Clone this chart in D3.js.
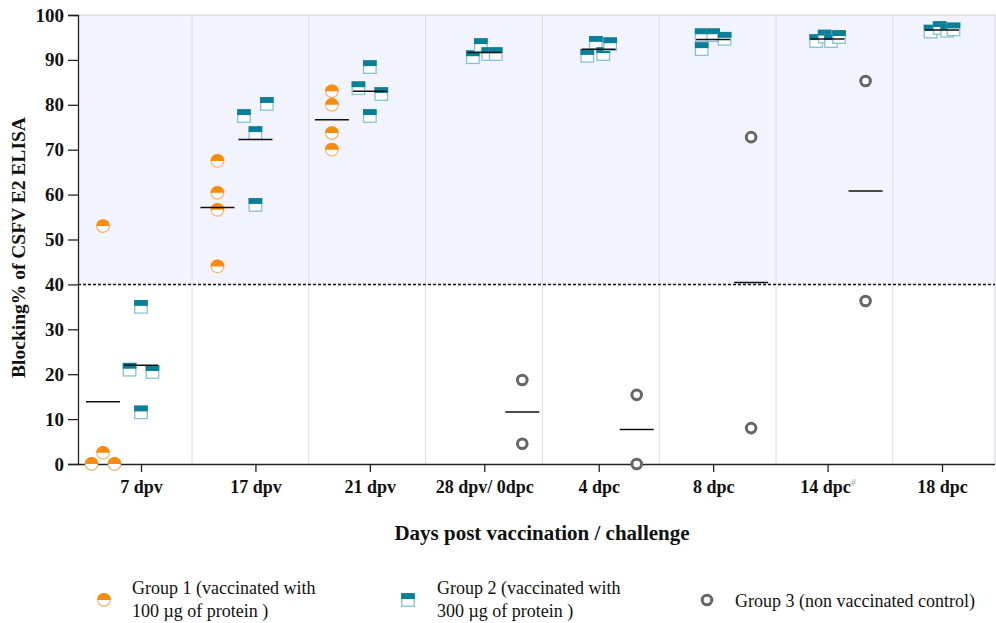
<!DOCTYPE html>
<html>
<head>
<meta charset="utf-8">
<script src="https://cdn.jsdelivr.net/npm/d3@7/dist/d3.min.js"></script>
<style>
  html, body { margin: 0; padding: 0; background: #fff; }
  svg { display: block; }
</style>
</head>
<body>
<svg id="chart" width="996" height="623"></svg>
<script>
// ---------- data ----------
const categories = ["7 dpv", "17 dpv", "21 dpv", "28 dpv/ 0dpc", "4 dpc", "8 dpc", "14 dpc", "18 dpc"];
const yTicks = [0, 10, 20, 30, 40, 50, 60, 70, 80, 90, 100];
const cutoff = 40;

// Group 1 (100 µg) values per category
const group1 = [
  [0, 2.5, 0, 53],
  [67.5, 60.4, 56.6, 44],
  [83, 80, 73.7, 70],
  [], [], [], [], []
];
const group1Jitter = [
  [-1, 0, 1, 0],
  [0, 0, 0, 0],
  [0, 0, 0, 0],
  [], [], [], [], []
];
// Group 2 (300 µg) values per category
const group2 = [
  [35, 21, 20.5, 11.5],
  [77.5, 80.2, 73.7, 57.7],
  [83.7, 88.4, 82.4, 77.5],
  [90.6, 93.3, 91.3, 91.3],
  [90.9, 93.8, 91.3, 93.5],
  [95.5, 95.5, 94.7, 92.4],
  [94.2, 95.2, 94.2, 95.1],
  [96.3, 97.1, 96.5, 96.8]
];
const group2Jitter = [
  [0, -1, 1, 0],
  [-1, 1, 0, 0],
  [-1, 0, 1, 0],
  [-1, -0.3, 0.35, 1],
  [-1, -0.25, 0.4, 1],
  [-1, 0, 1, -1],
  [-1, -0.25, 0.3, 1],
  [-1, -0.2, 0.45, 1]
];
// Group 3 (control) values per category
const group3 = [
  [], [], [],
  [18.7, 4.5],
  [15.4, 0],
  [72.8, 8],
  [85.3, 36.3],
  []
];
const group3Jitter = [[], [], [], [0, 0], [0, 0], [0, 0], [0, 0], []];

const legendLabels = [
  ["Group 1 (vaccinated with", "100 µg of protein )"],
  ["Group 2 (vaccinated with", "300 µg of protein )"],
  ["Group 3 (non vaccinated control)"]
];

// ---------- styles ----------
const ORANGE = "#f98b0e", ORANGE_L = "#f7b46e";
const TEAL = "#0b7f96", TEAL_L = "#86c3d2";
const GRAY = "#666666";
const FONT = "'Liberation Serif', 'Times New Roman', serif";

const svg = d3.select("#chart");
const plot = { left: 78, right: 995, top: 15, bottom: 464 };

const y = d3.scaleLinear().domain([0, 100]).range([plot.bottom, plot.top]);
const x = d3.scalePoint().domain(categories).range([141, 942]);
const step = x.step();
const groupOffset = [-0.332 * step, 0, 0.332 * step];
const jitterUnit = 0.1 * step;
// column bands for the light separators (slightly wider spacing than ticks)
const colBand = d3.scaleBand().domain(categories).range([75.2, 75.2 + 8 * 116.8]);

// shaded region above cutoff
svg.append("rect")
  .attr("x", plot.left).attr("y", y(100))
  .attr("width", plot.right - plot.left).attr("height", y(cutoff) - y(100))
  .attr("fill", "#f3f3fd");

// column separators
const seps = categories.slice(1).map(c => colBand(c));
svg.append("g").selectAll("line").data(seps).join("line")
  .attr("x1", d => d).attr("x2", d => d)
  .attr("y1", plot.top).attr("y2", plot.bottom)
  .attr("stroke", "#dcdce4").attr("stroke-width", 1);

// outer frame (top, right)
svg.append("path")
  .attr("d", `M${plot.left},${plot.top}H${plot.right}V${plot.bottom}`)
  .attr("fill", "none").attr("stroke", "#d0d0d8").attr("stroke-width", 1);

// cutoff dashed line
svg.append("line")
  .attr("x1", plot.left).attr("x2", plot.right)
  .attr("y1", y(cutoff)).attr("y2", y(cutoff))
  .attr("stroke", "#111").attr("stroke-width", 1.5).attr("stroke-dasharray", "3,2");

// ---------- axes ----------
const yAxis = svg.append("g").attr("transform", `translate(${plot.left},0)`)
  .call(d3.axisLeft(y).tickValues(yTicks).tickSize(10).tickPadding(4).tickFormat(d3.format("d")));
yAxis.select(".domain").attr("stroke", "#222").attr("stroke-width", 1.3);
yAxis.selectAll(".tick line").attr("stroke", "#222").attr("stroke-width", 1.3);
yAxis.selectAll("text").attr("font-family", FONT).attr("font-weight", "bold")
  .attr("font-size", 19).attr("fill", "#111");

const xAxis = svg.append("g").attr("transform", `translate(0,${plot.bottom})`)
  .call(d3.axisBottom(x).tickSize(8).tickPadding(8).tickSizeOuter(0));
xAxis.select(".domain").attr("d", `M${plot.left},0.5H${plot.right}`)
  .attr("stroke", "#222").attr("stroke-width", 1.3);
xAxis.selectAll(".tick line").attr("stroke", "#222").attr("stroke-width", 1.3);
xAxis.selectAll("text").attr("font-family", FONT).attr("font-weight", "bold")
  .attr("font-size", 18).attr("fill", "#111");
// superscript mark on "14 dpc"
xAxis.selectAll(".tick text").filter(d => d === "14 dpc")
  .append("tspan").attr("dy", -7).attr("font-size", 10).attr("font-style", "italic")
  .attr("font-weight", "normal").attr("fill", "#999").text("#");

svg.append("text")
  .attr("transform", `translate(25,${(plot.top + plot.bottom) / 2 + 8}) rotate(-90)`)
  .attr("text-anchor", "middle").attr("font-family", FONT).attr("font-weight", "bold")
  .attr("font-size", 19.5).attr("fill", "#111")
  .text("Blocking% of CSFV E2 ELISA");

svg.append("text")
  .attr("x", 542).attr("y", 540)
  .attr("text-anchor", "middle").attr("font-family", FONT).attr("font-weight", "bold")
  .attr("font-size", 21).attr("fill", "#111")
  .text("Days post vaccination / challenge");

// ---------- markers ----------
const R = 6.3, S = 12.5;
function halfCircle(g) {
  g.append("circle").attr("r", R).attr("fill", "#fff").attr("stroke", ORANGE_L).attr("stroke-width", 1.2);
  g.append("path").attr("d", d3.arc()({ innerRadius: 0, outerRadius: R + 0.6, startAngle: -Math.PI / 2, endAngle: Math.PI / 2 }))
    .attr("fill", ORANGE);
}
function halfSquare(g) {
  g.append("rect").attr("x", -S / 2).attr("y", -S / 2).attr("width", S).attr("height", S)
    .attr("fill", "#fff").attr("stroke", TEAL_L).attr("stroke-width", 1.3);
  g.append("rect").attr("x", -S / 2 - 0.6).attr("y", -S / 2 - 0.6).attr("width", S + 1.2).attr("height", S * 0.47)
    .attr("fill", TEAL);
}
function ring(g) {
  g.append("circle").attr("r", 4.8).attr("fill", "#fff").attr("stroke", GRAY).attr("stroke-width", 3);
}

const groups = [
  { values: group1, jitter: group1Jitter, draw: halfCircle },
  { values: group2, jitter: group2Jitter, draw: halfSquare },
  { values: group3, jitter: group3Jitter, draw: ring }
];

const pts = svg.append("g");
groups.forEach((grp, gi) => {
  categories.forEach((cat, ci) => {
    grp.values[ci].forEach((v, k) => {
      const g = pts.append("g")
        .attr("transform", `translate(${x(cat) + groupOffset[gi] + grp.jitter[ci][k] * jitterUnit},${y(v)})`);
      grp.draw(g);
    });
  });
});

// mean lines
const means = svg.append("g");
groups.forEach((grp, gi) => {
  categories.forEach((cat, ci) => {
    const vals = grp.values[ci];
    if (!vals.length) return;
    const m = d3.mean(vals);
    const cx = x(cat) + groupOffset[gi];
    means.append("line")
      .attr("x1", cx - 17).attr("x2", cx + 17)
      .attr("y1", y(m)).attr("y2", y(m))
      .attr("stroke", "#111").attr("stroke-width", 1.5);
  });
});

// ---------- legend ----------
const legendX = [104, 408, 707];
const legendTextX = [132, 437, 735];
const lg = svg.append("g");
groups.forEach((grp, gi) => {
  const g = lg.append("g").attr("transform", `translate(${legendX[gi]},${600})`);
  grp.draw(g);
  const lines = legendLabels[gi];
  const t = lg.append("text").attr("x", legendTextX[gi])
    .attr("font-family", FONT).attr("font-size", 18).attr("fill", "#111");
  if (lines.length === 1) {
    t.attr("y", 607).text(lines[0]);
  } else {
    lines.forEach((ln, i) => t.append("tspan").attr("x", legendTextX[gi]).attr("y", 594 + i * 23).text(ln));
  }
});
</script>
</body>
</html>
